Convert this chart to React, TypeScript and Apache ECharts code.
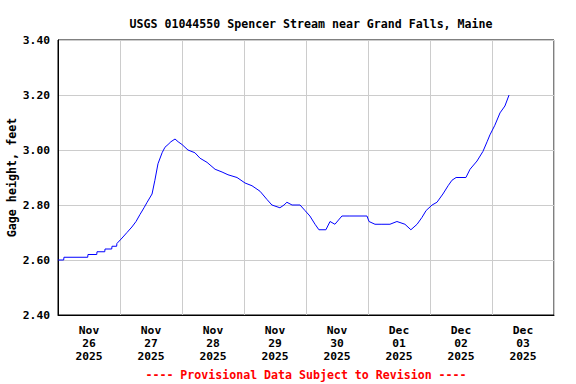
import React, { useEffect, useRef } from "react";
import * as echarts from "echarts";

// Hours since 2025-11-26 00:00 and gage height (feet)
const hours: number[] = [
  0, 2.2, 2.3, 11.5, 11.6, 15.0, 15.1, 18.1, 18.2, 20.8, 20.9, 22.7, 22.8, 24.8, 26.7, 28.6,
  30.2, 31.7, 33.3, 34.5, 36.4, 37.5, 38.7, 40.3, 41.4, 42.6, 43.7, 45.3, 46.5, 48.0,
  50.3, 53.0, 55.0, 57.7, 60.8, 63.5, 65.8, 69.3, 72.4, 75.1, 78.2, 80.9, 82.8, 85.9,
  87.5, 88.6, 90.6, 93.7, 95.6, 97.5, 99.5, 101.0, 103.7, 105.3, 107.2, 109.9, 113.0,
  116.9, 119.6, 120.4, 122.7, 125.4, 128.5, 131.2, 134.3, 136.6, 139.0, 140.9, 142.5,
  144.8, 146.7, 149.0, 151.0, 152.5, 154.1, 157.9, 159.5, 162.2, 164.5, 166.1, 167.2,
  169.1, 171.1, 173.0, 174.6,
];
const gageHeight: number[] = [
  2.60, 2.60, 2.61, 2.61, 2.62, 2.62, 2.63, 2.63, 2.64, 2.64, 2.65, 2.65, 2.66, 2.68, 2.70, 2.72,
  2.74, 2.765, 2.79, 2.81, 2.84, 2.89, 2.95, 2.99, 3.01, 3.02, 3.03, 3.04, 3.03, 3.02,
  3.00, 2.99, 2.97, 2.955, 2.93, 2.92, 2.91, 2.90, 2.88, 2.87, 2.85, 2.82, 2.80, 2.79,
  2.80, 2.81, 2.80, 2.80, 2.78, 2.76, 2.73, 2.71, 2.71, 2.74, 2.73, 2.76, 2.76,
  2.76, 2.76, 2.74, 2.73, 2.73, 2.73, 2.74, 2.73, 2.71, 2.73, 2.755, 2.78,
  2.80, 2.81, 2.84, 2.87, 2.89, 2.90, 2.90, 2.93, 2.96, 2.995, 3.03, 3.055,
  3.09, 3.135, 3.16, 3.20,
];
const dayLabels: string[] = [
  "Nov\n26\n2025", "Nov\n27\n2025", "Nov\n28\n2025", "Nov\n29\n2025",
  "Nov\n30\n2025", "Dec\n01\n2025", "Dec\n02\n2025", "Dec\n03\n2025",
];
const titleText = "USGS 01044550 Spencer Stream near Grand Falls, Maine";
const yAxisTitle = "Gage height, feet";
const footerText = "---- Provisional Data Subject to Revision ----";

const MONO = "'DejaVu Sans Mono', 'Liberation Mono', monospace";

export default function App() {
  const ref = useRef<HTMLDivElement>(null);
  useEffect(() => {
    if (!ref.current) return;
    const chart = echarts.init(ref.current, undefined, { renderer: "svg" });
    chart.setOption({
      animation: false,
      backgroundColor: "#ffffff",
      title: {
        text: titleText,
        left: 306,
        textAlign: "center",
        top: 13,
        textStyle: { fontFamily: MONO, fontWeight: "bold", fontSize: 11.6, color: "#000" },
      },
      graphic: [
        {
          type: "text",
          style: {
            text: footerText,
            x: 306,
            y: 375,
            textAlign: "center",
            textVerticalAlign: "middle",
            fill: "#ff0000",
            font: `bold 11.6px ${MONO}`,
          },
        },
      ],
      grid: {
        left: 58,
        right: 22,
        top: 40,
        bottom: 69,
        containLabel: false,
        outerBoundsMode: "none",
        show: true,
        borderColor: "#000",
        borderWidth: 1,
        backgroundColor: "transparent",
      },
      xAxis: [
        {
          type: "value",
          min: 0,
          max: 192,
          interval: 24,
          axisLine: { show: true, lineStyle: { color: "#000" } },
          axisTick: { show: false },
          axisLabel: { show: false },
          splitLine: { show: true, lineStyle: { color: "#cccccc", width: 1 } },
        },
        {
          type: "category",
          position: "bottom",
          data: dayLabels,
          boundaryGap: true,
          axisLine: { show: false },
          axisTick: { show: false },
          splitLine: { show: false },
          axisLabel: {
            interval: 0,
            margin: 9,
            fontFamily: MONO,
            fontWeight: "bold",
            fontSize: 11.3,
            lineHeight: 13,
            color: "#000",
          },
        },
      ],
      yAxis: {
        type: "value",
        min: 2.4,
        max: 3.4,
        interval: 0.2,
        name: yAxisTitle,
        nameLocation: "middle",
        nameRotate: 90,
        nameGap: 40,
        nameMoveOverlap: false,
        nameTextStyle: { fontFamily: MONO, fontWeight: "bold", fontSize: 11.7, color: "#000" },
        axisLine: { show: true, lineStyle: { color: "#000" } },
        axisTick: { show: false },
        axisLabel: {
          margin: 8,
          fontFamily: MONO,
          fontWeight: "bold",
          fontSize: 11.3,
          color: "#000",
          formatter: (v: number) => v.toFixed(2),
        },
        splitLine: { show: true, lineStyle: { color: "#cccccc", width: 1 } },
      },
      series: [
        {
          type: "line",
          xAxisIndex: 0,
          data: hours.map((h, i) => [h, gageHeight[i]]),
          showSymbol: false,
          symbol: "none",
          lineStyle: { color: "#0000ff", width: 1 },
        },
      ],
    });
    return () => chart.dispose();
  }, []);
  return <div ref={ref} style={{ width: 576, height: 384, position: "absolute", left: 0, top: 0 }} />;
}
